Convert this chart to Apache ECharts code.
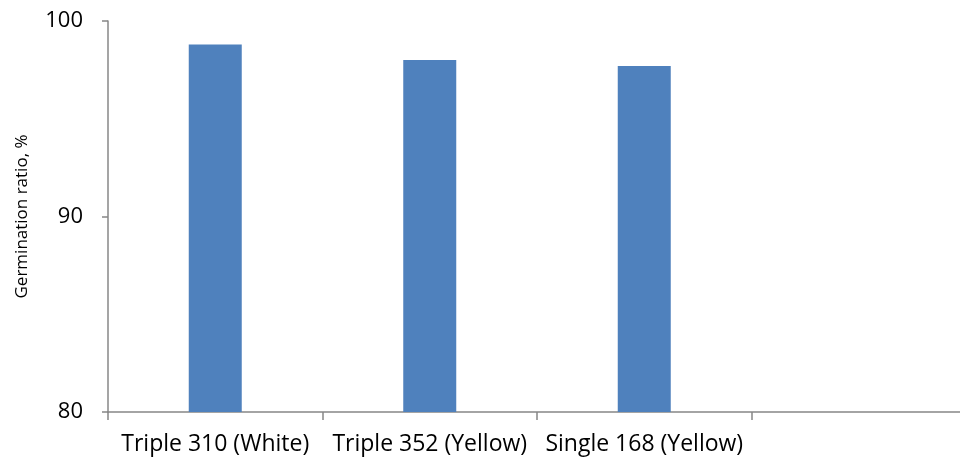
<!DOCTYPE html>
<html><head><meta charset="utf-8">
<script src="https://cdn.jsdelivr.net/npm/echarts@6/dist/echarts.min.js"></script>
<style>html,body{margin:0;padding:0;background:#fff}#c{width:960px;height:459px}</style>
</head><body><div id="c"></div>
<script>
const categories = ['Triple 310 (White)', 'Triple 352 (Yellow)', 'Single 168 (Yellow)', ''];
const germination = [98.8, 98.0, 97.7, null];
const yTicks = [80, 90, 100];
const yTitle = 'Germination ratio, %';

const chart = echarts.init(document.getElementById('c'), null, {renderer: 'canvas'});
const font = '"Open Sans", sans-serif';
chart.setOption({
  animation: false,
  grid: {left: 108, top: 21, width: 858, height: 391, containLabel: false, outerBoundsMode: 'none'},
  xAxis: {
    type: 'category', data: categories, boundaryGap: true,
    axisLine: {lineStyle: {color: '#878787', width: 1.5}},
    axisTick: {show: true, length: 8, lineStyle: {color: '#878787', width: 1.5}},
    axisLabel: {color: '#000', fontSize: 23, fontFamily: font, margin: 21, interval: 0}
  },
  yAxis: {
    type: 'value', min: yTicks[0], max: yTicks[yTicks.length - 1], interval: 10,
    name: yTitle, nameLocation: 'middle', nameGap: 77,
    nameTextStyle: {color: '#000', fontSize: 17, fontFamily: font},
    axisLine: {show: true, lineStyle: {color: '#878787', width: 1.5}},
    axisTick: {show: true, length: 6, lineStyle: {color: '#878787', width: 1.5}},
    splitLine: {show: false},
    axisLabel: {color: '#000', fontSize: 22, fontFamily: font, margin: 25}
  },
  series: [{
    type: 'bar', data: germination, barWidth: 53,
    itemStyle: {color: '#4F81BD'}
  }]
});
</script></body></html>
